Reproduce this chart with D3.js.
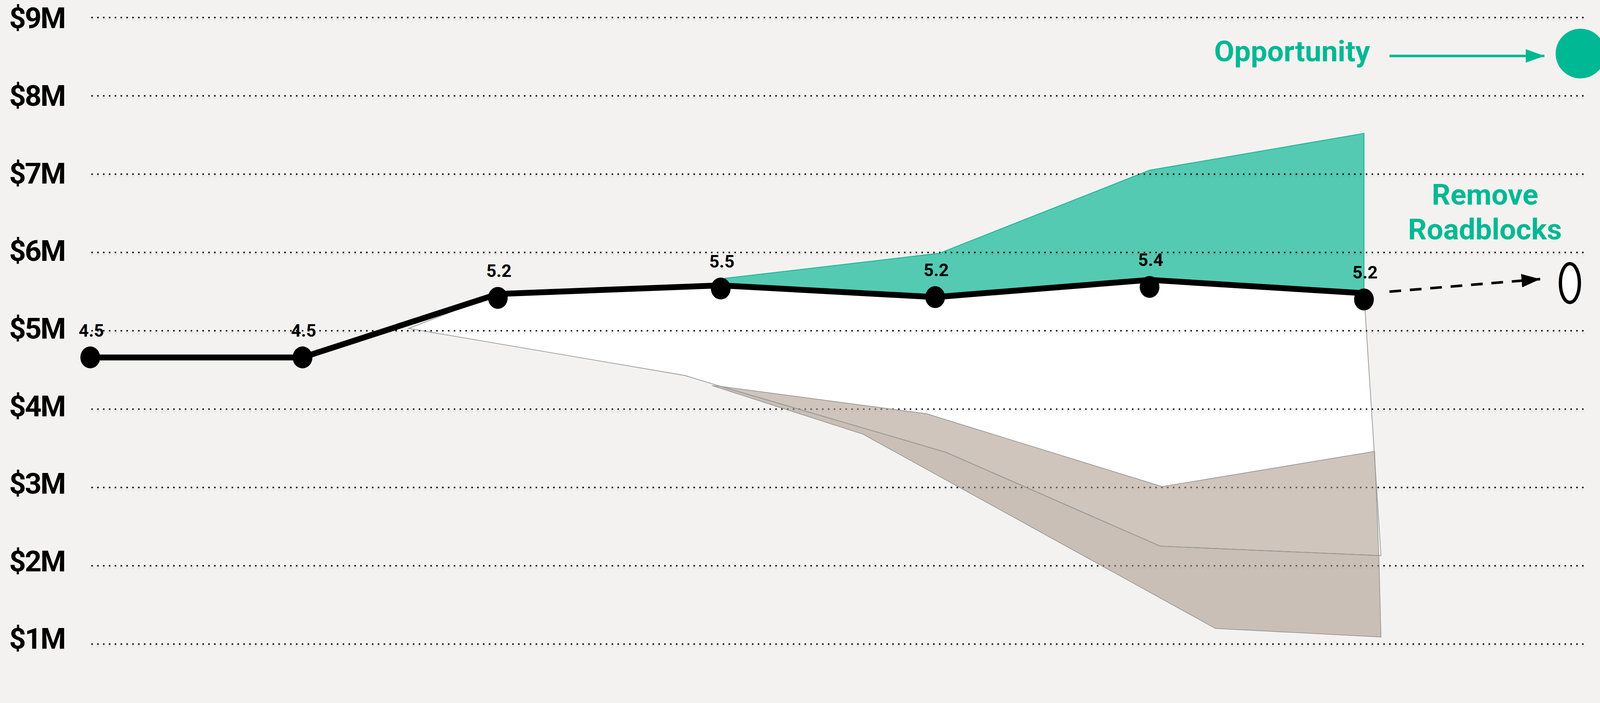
<!DOCTYPE html>
<html>
<head>
<meta charset="utf-8">
<script src="https://cdn.jsdelivr.net/npm/d3@7"></script>
<style>
html, body { margin: 0; padding: 0; background: #f3f2f0; overflow: hidden; }
svg { display: block; width: 100vw; height: 100vh; }
text { font-family: Roboto, "Noto Sans", sans-serif; font-weight: 700; }
</style>
</head>
<body>
<svg id="chart" viewBox="0 0 4379 1800" preserveAspectRatio="xMidYMin meet"></svg>
<script>
// y axis, in $M
var yTicks = [1, 2, 3, 4, 5, 6, 7, 8, 9];
var tickLabels = ["$1M", "$2M", "$3M", "$4M", "$5M", "$6M", "$7M", "$8M", "$9M"];

// the main series: period position, dot value, line vertex value, printed label
var periods = [0, 1, 1.92, 2.97, 3.98, 4.99, 6];
var pointValues = [4.66, 4.66, 5.42, 5.54, 5.43, 5.56, 5.40];
var lineValues = [4.66, 4.66, 5.47, 5.58, 5.43, 5.65, 5.48];
var pointLabels = ["4.5", "4.5", "5.2", "5.5", "5.2", "5.4", "5.2"];

// shaded bands, as [period, value] pairs
var opportunityTop = [[2.99, 5.67], [4.0, 5.99], [4.99, 7.05], [6.0, 7.52]];
var whiteStart = [[1.50, 5.03]];
var whiteLeft = [[2.80, 4.43]];
var whiteCorner = [[6.08, 2.13]];
var midEdge = [[2.97, 4.29], [4.03, 3.45], [5.04, 2.25], [6.07, 2.13]];
var upperTop = [[2.97, 4.29], [3.94, 3.94], [5.05, 3.01], [6.05, 3.46]];
var lowerBottom = [[2.93, 4.30], [3.64, 3.68], [5.30, 1.20], [6.08, 1.09]];

// annotations
var roadblockArrow = [[6.12, 5.50], [6.83, 5.66]];
var roadblockEnd = [6.97, 5.61];
var opportunityArrow = [[6.12, 8.51], [6.85, 8.51]];
var opportunityEnd = [7.02, 8.54];

var svg = d3.select("#chart");
var W = 4379, H = 1800;

var x = d3.scaleLinear().domain([0, 6]).range([247, 3733]);
var y = d3.scaleLinear().domain([1, 9]).range([1763, 48]);
var yLabel = d3.scaleLinear().domain([1, 9]).range([1749, 50]);

var teal = "#00b894";

svg.append("rect").attr("width", W).attr("height", H).attr("fill", "#f3f2f0");

var defs = svg.append("defs");
var f = defs.append("filter").attr("id", "gshadow")
	.attr("x", "-1%").attr("y", "-200%").attr("width", "102%").attr("height", "500%");
f.append("feDropShadow").attr("dx", 0).attr("dy", 5).attr("stdDeviation", 3)
	.attr("flood-color", "#000").attr("flood-opacity", 0.18);

function arrowMarker(id, color){
	defs.append("marker")
		.attr("id", id)
		.attr("markerUnits", "userSpaceOnUse")
		.attr("markerWidth", 52).attr("markerHeight", 38)
		.attr("refX", 51).attr("refY", 18.5)
		.attr("orient", "auto")
		.append("path")
		.attr("d", "M0,0 L51,18.5 L0,37 Z")
		.attr("fill", color);
}
arrowMarker("arrBlack", "#000");
arrowMarker("arrTeal", teal);

var poly = d3.line().x(function(d){ return x(d[0]); }).y(function(d){ return y(d[1]); });

var linePts = periods.map(function(p, i){ return [p, lineValues[i]]; });

// white band under the line
var whitePoly = whiteStart
	.concat(linePts.slice(2))
	.concat(whiteCorner)
	.concat(midEdge.slice().reverse())
	.concat(whiteLeft);
svg.append("path")
	.attr("d", poly(whitePoly) + "Z")
	.attr("fill", "#fff")
	.attr("stroke", "#999")
	.attr("stroke-width", 2);

// opportunity band
var greenPoly = opportunityTop.concat(linePts.slice(3).reverse());
svg.append("path")
	.attr("d", poly(greenPoly) + "Z")
	.attr("fill", "#55cab3")
	.attr("stroke", "#1ab595")
	.attr("stroke-width", 2.5);

// dotted gridlines
var grid = svg.append("g").attr("filter", "url(#gshadow)");
grid.selectAll("line")
	.data(yTicks)
	.enter()
	.append("line")
	.attr("x1", 250).attr("x2", 4345)
	.attr("y1", function(d){ return y(d); })
	.attr("y2", function(d){ return y(d); })
	.attr("stroke", "#000")
	.attr("stroke-width", 4)
	.attr("stroke-dasharray", "4 12");

svg.selectAll("text.tick")
	.data(yTicks)
	.enter()
	.append("text")
	.attr("class", "tick")
	.attr("x", 25)
	.attr("y", function(d){ return yLabel(d); })
	.attr("dominant-baseline", "central")
	.attr("font-size", 80)
	.attr("letter-spacing", -3)
	.attr("fill", "#000")
	.text(function(d, i){ return tickLabels[i]; });

// downside bands
var upperPoly = upperTop.concat(midEdge.slice().reverse());
var lowerPoly = midEdge.concat(lowerBottom.slice().reverse());
[upperPoly, lowerPoly].forEach(function(p){
	svg.append("path")
		.attr("d", poly(p) + "Z")
		.attr("fill", "rgb(167,150,134)")
		.attr("fill-opacity", 0.55)
		.attr("stroke", "#999")
		.attr("stroke-width", 2);
});

// main line
svg.append("path")
	.attr("d", poly(linePts))
	.attr("fill", "none")
	.attr("stroke", "#000")
	.attr("stroke-width", 16)
	.attr("stroke-linejoin", "round");

svg.selectAll("ellipse.pt")
	.data(periods)
	.enter()
	.append("ellipse")
	.attr("class", "pt")
	.attr("cx", function(d){ return x(d); })
	.attr("cy", function(d, i){ return y(pointValues[i]); })
	.attr("rx", 27).attr("ry", 30)
	.attr("fill", "#000");

svg.selectAll("text.pl")
	.data(periods)
	.enter()
	.append("text")
	.attr("class", "pl")
	.attr("x", function(d){ return x(d) + 3; })
	.attr("y", function(d, i){ return y(pointValues[i]) - 57; })
	.attr("text-anchor", "middle")
	.attr("font-size", 48)
	.attr("fill", "#000")
	.text(function(d, i){ return pointLabels[i]; });

// remove roadblocks annotation
svg.append("path")
	.attr("d", poly(roadblockArrow))
	.attr("stroke", "#000")
	.attr("stroke-width", 7)
	.attr("stroke-dasharray", "32 24")
	.attr("marker-end", "url(#arrBlack)");

svg.append("ellipse")
	.attr("cx", x(roadblockEnd[0]))
	.attr("cy", y(roadblockEnd[1]))
	.attr("rx", 26).attr("ry", 53)
	.attr("fill", "#fff")
	.attr("stroke", "#000")
	.attr("stroke-width", 9);

var rr = svg.append("text")
	.attr("x", x(6.57))
	.attr("y", y(6) - 131)
	.attr("text-anchor", "middle")
	.attr("font-size", 80)
	.attr("fill", teal);
rr.append("tspan").attr("x", x(6.57)).text("Remove");
rr.append("tspan").attr("x", x(6.57)).attr("dy", 95).text("Roadblocks");

// opportunity annotation
svg.append("path")
	.attr("d", poly(opportunityArrow))
	.attr("stroke", teal)
	.attr("stroke-width", 7)
	.attr("marker-end", "url(#arrTeal)");

svg.append("circle")
	.attr("cx", x(opportunityEnd[0]))
	.attr("cy", y(opportunityEnd[1]))
	.attr("r", 68)
	.attr("fill", teal);

svg.append("text")
	.attr("x", x(opportunityArrow[0][0]) - 53)
	.attr("y", y(opportunityArrow[0][1]) + 15)
	.attr("text-anchor", "end")
	.attr("font-size", 80)
	.attr("fill", teal)
	.text("Opportunity");
</script>
</body>
</html>
